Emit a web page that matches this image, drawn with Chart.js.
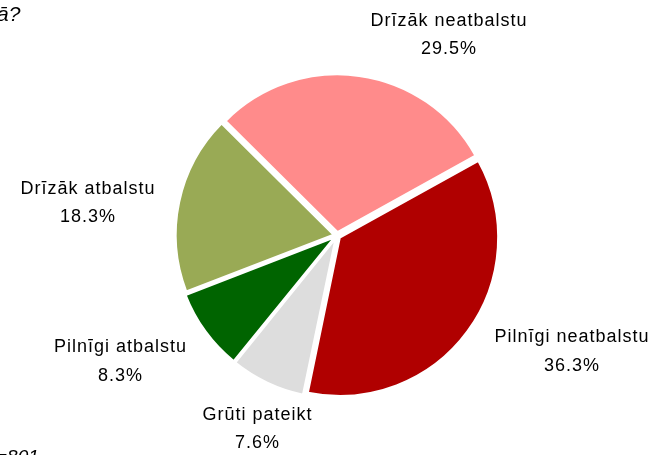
<!DOCTYPE html>
<html>
<head>
<meta charset="utf-8">
<script src="https://cdn.jsdelivr.net/npm/chart.js@4"></script>
<style>
  html, body { margin: 0; padding: 0; background: #fff; }
  #wrap { width: 650px; height: 455px; position: relative; }
</style>
</head>
<body>
<div id="wrap"><canvas id="pie-chart" width="650" height="455"></canvas></div>
<script>
"use strict";

const categories = ["Pilnīgi neatbalstu", "Grūti pateikt", "Pilnīgi atbalstu", "Drīzāk atbalstu", "Drīzāk neatbalstu"];
const shares = [36.3, 7.6, 8.3, 18.3, 29.5];
const colors = ["#B00000", "#DDDDDD", "#006400", "#99AA55", "#FF8B8B"];
const titleTail = "ā?";
const sampleNote = "=801";

const FONT = "18px 'Liberation Sans', Arial, sans-serif";

// Excel-like outside labels: name on one line, percent under it
const outsideLabels = {
  id: "outsideLabels",
  afterDraw(chart) {
    const ctx = chart.ctx;
    const meta = chart.getDatasetMeta(0);
    ctx.save();
    ctx.font = FONT;
    ctx.fillStyle = "#000";
    ctx.textBaseline = "middle";
    ctx.textAlign = "center";
    ctx.letterSpacing = "1px";
    meta.data.forEach((arc, i) => {
      const p = arc.getProps(["x", "y", "startAngle", "endAngle", "outerRadius"], true);
      const mid = (p.startAngle + p.endAngle) / 2;
      const cos = Math.cos(mid), sin = Math.sin(mid);
      const r = p.outerRadius + 28;
      const px = p.x + cos * r, py = p.y + sin * r;
      const lines = [categories[i], shares[i].toFixed(1) + "%"];
      const w = Math.max(...lines.map((t) => ctx.measureText(t).width));
      const lh = 28.5, h = lh * 2;
      let cx = px;
      if (cos > 0.1) cx = px + w / 2 + 8;
      else if (cos < -0.5) cx = px - w / 2;
      let sy;
      if (sin > 0) sy = cos > 0.5 ? Math.pow(sin, 3) : sin;
      else sy = cos < -0.5 ? 0.2 : 0.6 * Math.pow(sin, 3);
      const cy = py + (h / 2) * sy;
      ctx.fillText(lines[0], cx, cy - lh / 2);
      ctx.fillText(lines[1], cx, cy + lh / 2);
    });
    // cut-off question and sample size from the original slide
    ctx.letterSpacing = "0px";
    ctx.textAlign = "left";
    ctx.font = "italic 21px 'Liberation Sans', Arial, sans-serif";
    ctx.fillText(titleTail, -3, 15);
    ctx.font = "italic 19px 'Liberation Sans', Arial, sans-serif";
    ctx.fillText(sampleNote, -4, 458);
    ctx.restore();
  },
};

new Chart(document.getElementById("pie-chart"), {
  type: "pie",
  data: {
    labels: categories,
    datasets: [
      {
        data: shares,
        backgroundColor: colors,
        borderColor: "#fff",
        borderWidth: 2,
        offset: 14,
      },
    ],
  },
  options: {
    responsive: false,
    animation: false,
    rotation: 61,
    layout: { padding: { top: 70, bottom: 54, left: 171, right: 147 } },
    plugins: {
      legend: { display: false },
      tooltip: { enabled: false },
    },
  },
  plugins: [outsideLabels],
});
</script>
</body>
</html>
